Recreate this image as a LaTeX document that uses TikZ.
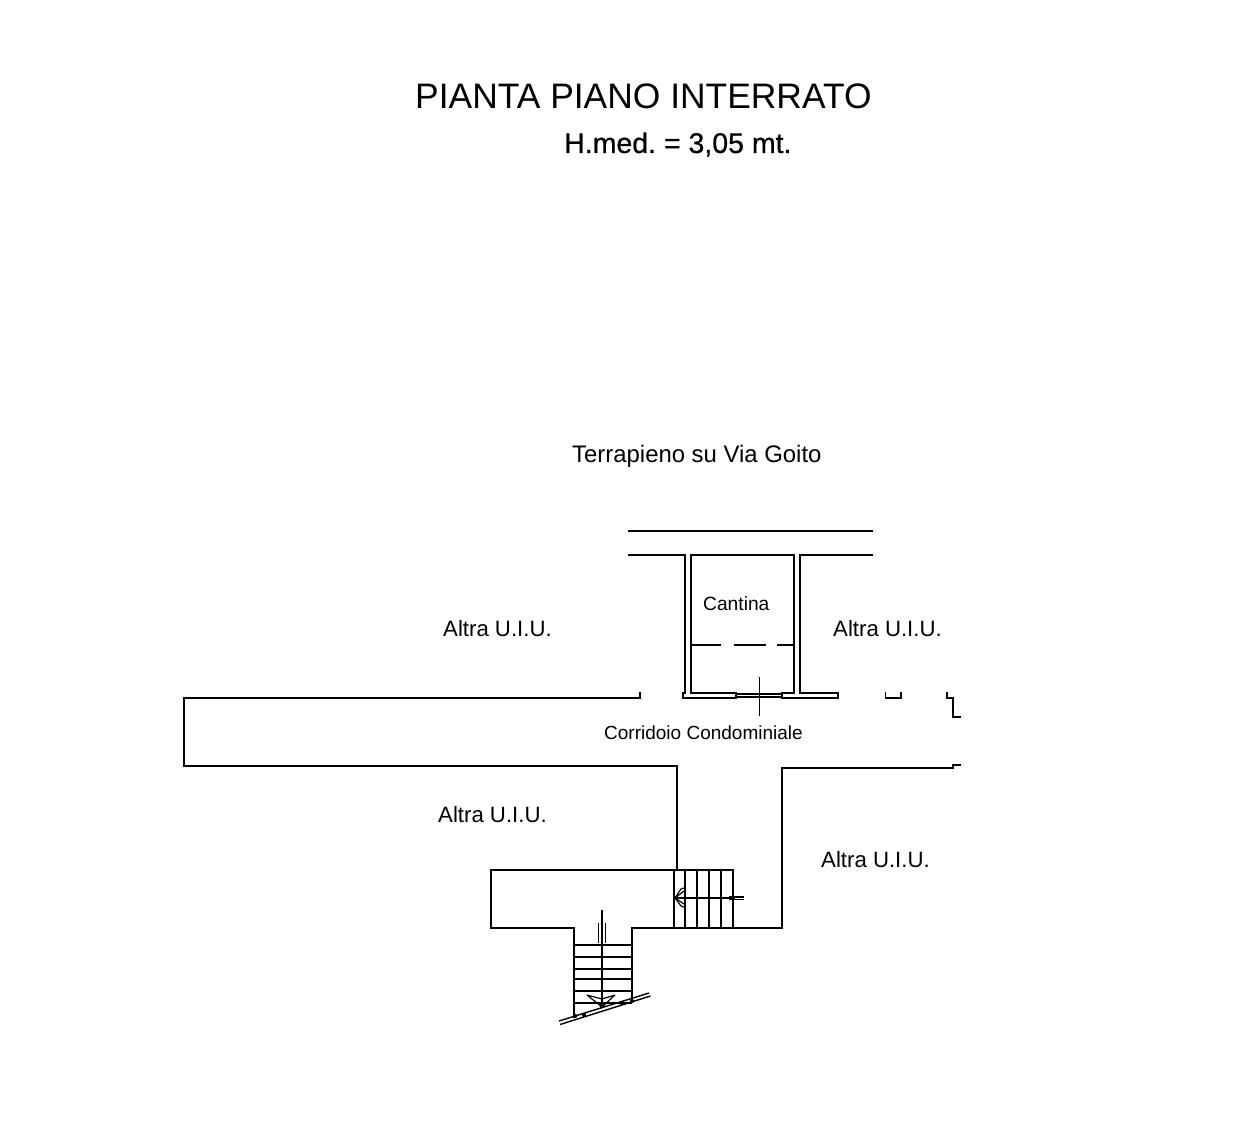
\documentclass[tikz,border=0pt]{standalone}
\usepackage{fontspec}
\setmainfont{Liberation Sans}
\newfontfamily\semibold[FakeBold=0.6]{Liberation Sans}
\frenchspacing
\begin{document}
\begin{tikzpicture}[x=1pt,y=-1pt,
  wall/.style={draw=black,line width=1.9pt,line cap=rect},
  thinline/.style={draw=black,line width=1.5pt},
  fine/.style={draw=black,line width=1.2pt},
  lab/.style={anchor=base west,inner sep=0pt,text=black}]
\useasboundingbox[fill=white] (0,0) rectangle (1255,1145);
% texts
\node[lab,font=\fontsize{35.4}{35}\selectfont] (title) at (415,109) {PIANTA PIANO INTERRATO};
\node[lab,font=\semibold\fontsize{28.5}{28}\selectfont] (hmed) at (564,153) {H.med. = 3,05 mt.};
\node[lab,font=\fontsize{23.9}{24}\selectfont] (terr) at (572,462) {Terrapieno su Via Goito};
\node[lab,font=\fontsize{22.2}{22}\selectfont] (a1) at (443,636) {Altra U.I.U.};
\node[lab,font=\fontsize{22.2}{22}\selectfont] (a2) at (833,636) {Altra U.I.U.};
\node[lab,font=\fontsize{22.2}{22}\selectfont] (a3) at (438,822) {Altra U.I.U.};
\node[lab,font=\fontsize{22.2}{22}\selectfont] (a4) at (821,867) {Altra U.I.U.};
\node[lab,font=\fontsize{19.2}{19}\selectfont] (can) at (703,610) {Cantina};
\node[lab,font=\fontsize{19}{19}\selectfont] (cor) at (604,739) {Corridoio Condominiale};
% upper walls
\draw[wall] (629,531) -- (872,531);
\draw[wall] (629,555) -- (685,555) -- (685,693);
\draw[wall] (691,693) -- (691,555) -- (794,555) -- (794,693);
\draw[wall] (800,693) -- (800,555) -- (872,555);
\draw[wall] (691,645) -- (720,645) (735,645) -- (765,645) (778,645) -- (794,645);
% cellar front
\draw[wall] (691,693) -- (736,693) -- (736,698) -- (683,698) -- (683,693) -- (685,693);
\draw[wall] (794,693) -- (782,693) -- (782,698) -- (838,698) -- (838,693) -- (800,693);
\draw[fine] (736,694) -- (782,694) (736,697) -- (782,697);
\draw[thinline] (759.5,677) -- (759.5,716);
% corridor
\draw[wall] (640,693) -- (640,698) -- (184,698) -- (184,766) -- (677,766) -- (677,870);
\draw[wall] (885.5,693) -- (885.5,698) -- (901,698) -- (901,693);
\draw[wall] (947,693) -- (947,698) -- (953,698) -- (953,717) -- (960,717);
\draw[wall] (782,928) -- (782,768) -- (953,768) -- (953,765) -- (960,765);
% landing
\draw[wall] (574,1017) -- (574,928) -- (491,928) -- (491,870) -- (733,870) -- (733,928);
\draw[wall] (632,1001) -- (632,928) -- (782,928);
% stairs east
\foreach \x in {674,685,697,709,721} \draw[thinline] (\x,870) -- (\x,928);
\draw[fine] (675,898) -- (730,898);
\draw[line width=3.5pt] (729,898) -- (735,898);
\draw[fine] (735,897) -- (744,897) (735,899.5) -- (744,899.5);
\draw[fine] (675,898) -- (681,889) -- (684,888) (675,898) -- (681,906) -- (684,907);
\draw[fine] (675,898) -- (684,891) (675,898) -- (684,904);
% stairs south
\foreach \y in {945,957,969,979,991,1003} \draw[thinline] (574,\y) -- (632,\y);
\draw[thinline] (602,910) -- (602,1007);
\draw[fine] (598.5,923) -- (598.5,943) (605.5,923) -- (605.5,943);
\draw[fine] (587,995) -- (602,1007) -- (615,995) (587,995) -- (602,999) -- (615,995);
\draw[line width=1.4pt] (559,1021) -- (649,993) (560,1024.5) -- (650.5,996);
\fill (575,1016) circle (2.2) (584,1015) circle (2.2) (602,1006) circle (2.4) (622,1003) circle (2.2) (632,1001) circle (2);
\end{tikzpicture}
\end{document}
